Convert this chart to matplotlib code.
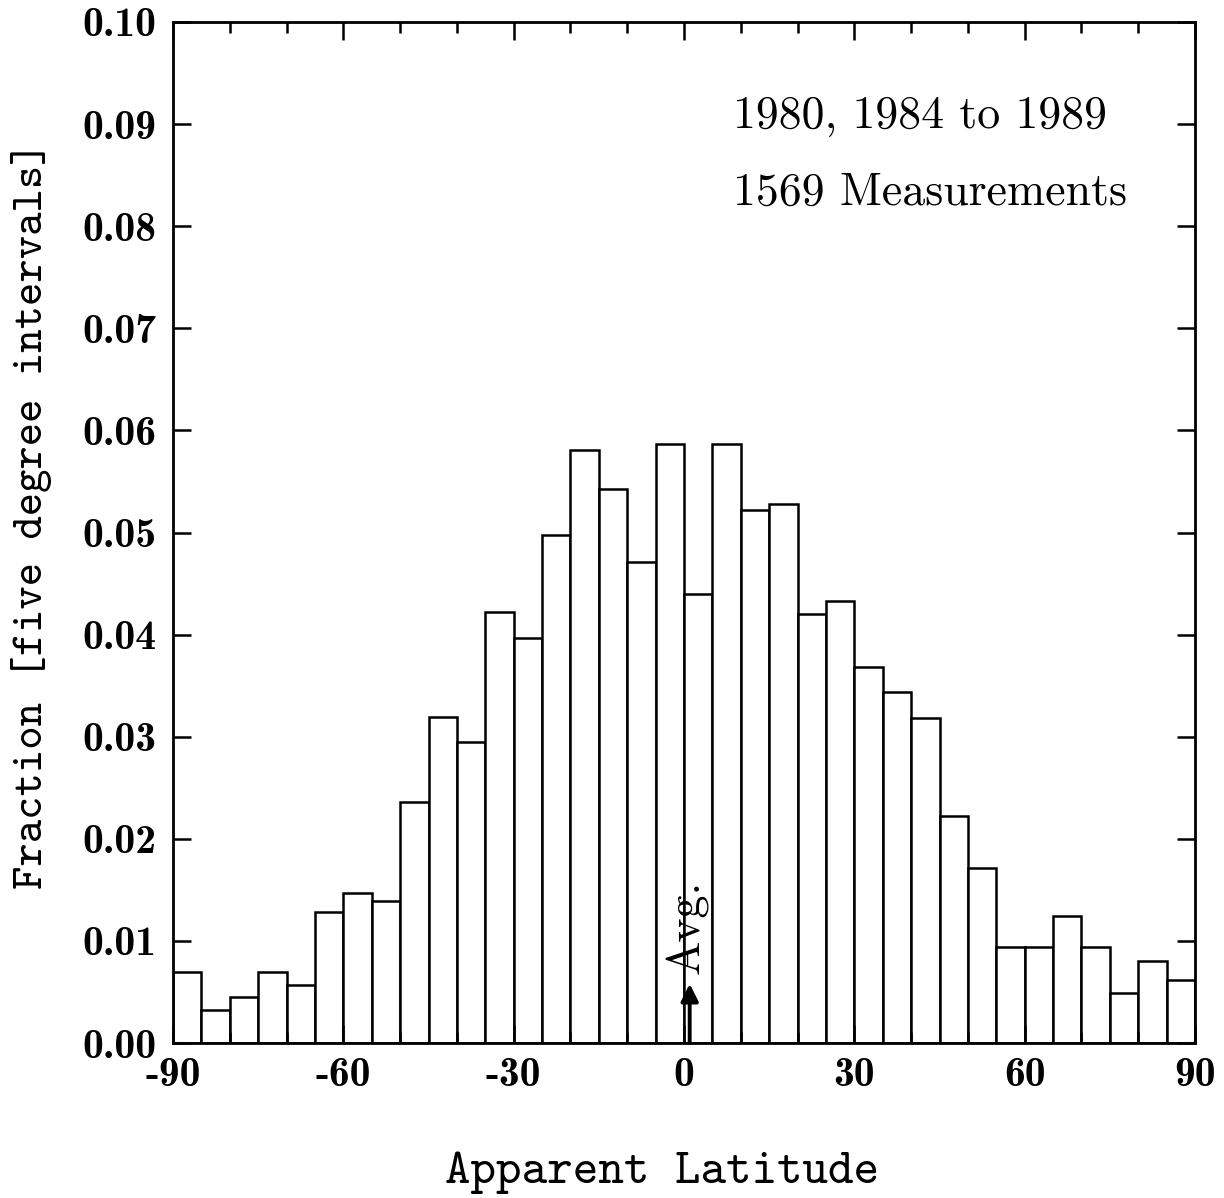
import matplotlib
matplotlib.use("Agg")
import matplotlib.pyplot as plt
import numpy as np
from matplotlib.ticker import FixedLocator, MultipleLocator

plt.rcParams["axes.unicode_minus"] = False

# 5-degree latitude bins (left edges) and the fraction of measurements in each
bin_left = np.arange(-90, 90, 5)
fraction = [
    0.0070, 0.0032, 0.0045, 0.0070, 0.0057, 0.0128, 0.0147, 0.0139, 0.0236,
    0.0319, 0.0295, 0.0422, 0.0397, 0.0498, 0.0581, 0.0543, 0.0471, 0.0587,
    0.0440, 0.0587, 0.0522, 0.0528, 0.0420, 0.0433, 0.0368, 0.0344, 0.0318,
    0.0222, 0.0171, 0.0094, 0.0094, 0.0124, 0.0094, 0.0049, 0.0080, 0.0062,
]
avg_lat = 1.0

xticks = [-90, -60, -30, 0, 30, 60, 90]
xticklabels = ["-90", "-60", "-30", "0", "30", "60", "90"]
yticks = [0.00, 0.01, 0.02, 0.03, 0.04, 0.05, 0.06, 0.07, 0.08, 0.09, 0.10]
yticklabels = ["0.00", "0.01", "0.02", "0.03", "0.04", "0.05", "0.06",
               "0.07", "0.08", "0.09", "0.10"]
notes = ["1980, 1984 to 1989", "1569 Measurements"]

fig = plt.figure(figsize=(12.24, 11.98), dpi=100)
ax = fig.add_axes([173 / 1224, 155 / 1198, 1022 / 1224, 1021 / 1198])

ax.bar(bin_left, fraction, width=5, align="edge", facecolor="white",
       edgecolor="black", linewidth=1.8)

ax.set_xlim(-90, 90)
ax.set_ylim(0, 0.10)
ax.xaxis.set_major_locator(FixedLocator(xticks))
ax.xaxis.set_minor_locator(MultipleLocator(10))
ax.yaxis.set_major_locator(FixedLocator(yticks))
ax.set_xticklabels(xticklabels, fontfamily="cmb10", fontsize=30)
ax.set_yticklabels(yticklabels, fontfamily="cmb10", fontsize=30)
ax.tick_params(which="both", direction="in", top=True, right=True,
               width=1.8, color="black")
ax.tick_params(which="major", length=13)
ax.tick_params(which="minor", length=8)
ax.tick_params(axis="x", which="major", pad=10)
ax.tick_params(axis="y", which="major", pad=12)
for sp in ax.spines.values():
    sp.set_linewidth(2.0)

ax.set_xlabel("Apparent Latitude", fontfamily="cmtt10", fontsize=35)
ax.set_ylabel("Fraction [five degree intervals]", fontfamily="cmtt10",
              fontsize=32)
ax.xaxis.set_label_coords(0.479, -0.106)
ax.yaxis.set_label_coords(-0.118, 0.517)

ax.text(0.548, 0.896, notes[0], transform=ax.transAxes, fontfamily="cmr10",
        fontsize=33, va="baseline", ha="left")
ax.text(0.548, 0.821, notes[1], transform=ax.transAxes, fontfamily="cmr10",
        fontsize=33, va="baseline", ha="left")

# average marker: upward arrow with rotated label
ax.annotate("", xy=(avg_lat, 0.0058), xytext=(avg_lat, 0.0),
            arrowprops=dict(arrowstyle="-|>", lw=2.8, color="black",
                            mutation_scale=26, shrinkA=0, shrinkB=0))
ax.text(avg_lat - 0.4, 0.0068, "Avg.", rotation=90, fontfamily="cmr10",
        fontsize=33, ha="center", va="bottom")

fig.savefig("out.png", dpi=100)
